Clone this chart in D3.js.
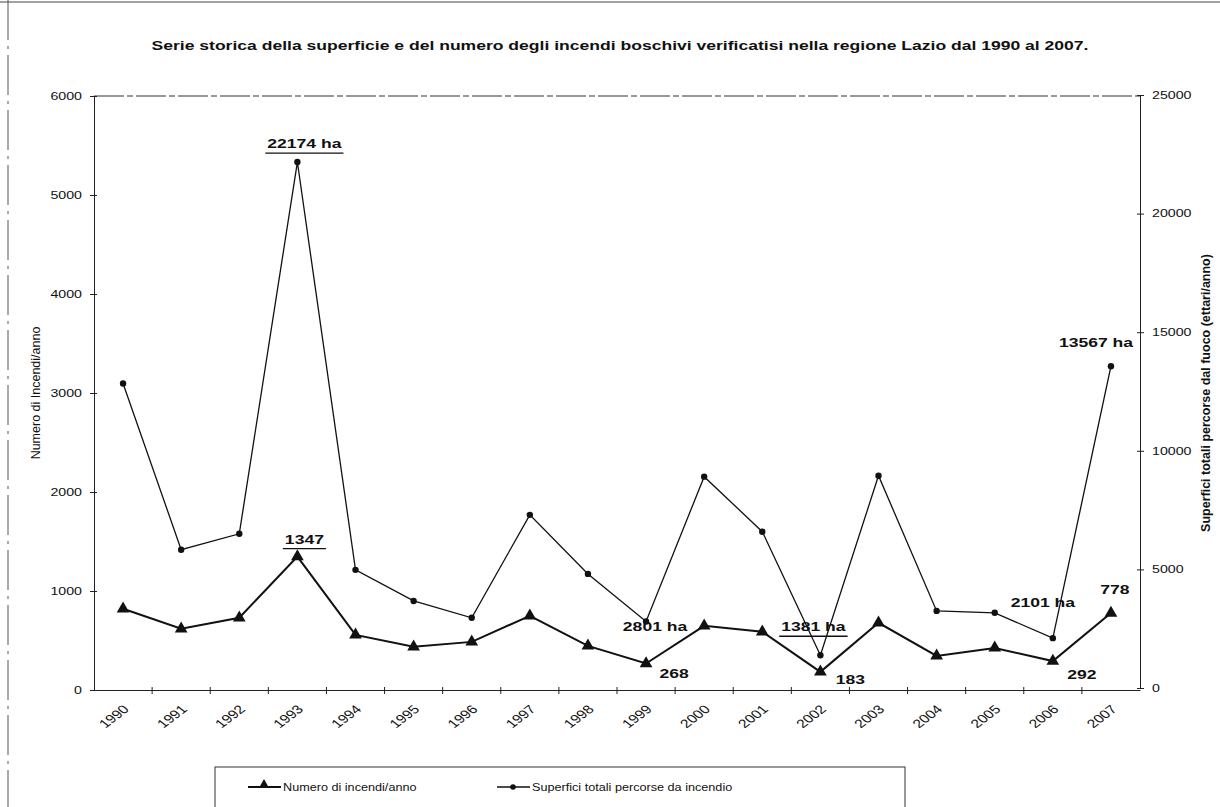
<!DOCTYPE html>
<html>
<head>
<meta charset="utf-8">
<script src="https://cdn.jsdelivr.net/npm/d3@7"></script>
<style>
  body { margin: 0; background: #fff; }
  text { font-family: "Liberation Sans", Arial, sans-serif; fill: #111; }
</style>
</head>
<body>
<div id="chart"></div>
<script>
const years = ["1990","1991","1992","1993","1994","1995","1996","1997","1998","1999","2000","2001","2002","2003","2004","2005","2006","2007"];
const incendi = [820, 618, 730, 1347, 557, 436, 486, 750, 446, 268, 648, 588, 183, 679, 344, 425, 292, 778];
const superficie = [12840, 5830, 6500, 22174, 4980, 3670, 2960, 7300, 4810, 2801, 8910, 6590, 1381, 8950, 3250, 3170, 2101, 13567];
const leftTicks = [0, 1000, 2000, 3000, 4000, 5000, 6000];
const rightTicks = [0, 5000, 10000, 15000, 20000, 25000];
// labels next to points: [series, index, text, dx, dy, underline]
const notes = [
  ["s", 3, "22174 ha", 7, -14, true],
  ["i", 3, "1347", 7, -13, true],
  ["s", 9, "2801 ha", 9, 9, false],
  ["i", 9, "268", 28, 15, false],
  ["s", 12, "1381 ha", -7, -24, true],
  ["i", 12, "183", 30, 12, false],
  ["s", 16, "2101 ha", -10, -31, false],
  ["i", 16, "292", 29, 18, false],
  ["i", 17, "778", 4, -19, false],
  ["s", 17, "13567 ha", -15, -19, false]
];

const width = 1220, height = 807;
const m = { left: 94, right: 1140, top: 96, bottom: 690 };
const sx = 1.35; // the scan is wider than tall

const svg = d3.select("#chart").append("svg")
  .attr("width", width)
  .attr("height", height);

// put a text at (x,y) stretched sideways
function wide(sel, x, y, s) {
  return sel.attr("x", 0).attr("y", 0).attr("transform", `translate(${x},${y}) scale(${s || sx},1)`);
}

// scan frame bits
svg.append("line").attr("x1", 0).attr("x2", width).attr("y1", 2).attr("y2", 2)
  .attr("stroke", "#444").attr("stroke-width", 1);
svg.append("line").attr("x1", 8).attr("x2", 8).attr("y1", 0).attr("y2", height)
  .attr("stroke", "#555").attr("stroke-width", 1).attr("stroke-dasharray", "40,6,3,6");

wide(svg.append("text"), 620, 50)
  .attr("text-anchor", "middle")
  .style("font-size", "13px")
  .style("font-weight", "bold")
  .text("Serie storica della superficie e del numero degli incendi boschivi verificatisi nella regione Lazio dal 1990 al 2007.");

const x = d3.scaleBand().domain(years).range([m.left, m.right]);
const yL = d3.scaleLinear().domain([0, 6000]).range([m.bottom, m.top]);
const yR = d3.scaleLinear().domain([0, 25000]).range([m.bottom - 2, m.top - 1]);
const cx = d => x(d) + x.bandwidth() / 2;

// top border of plot area
svg.append("line").attr("x1", m.left).attr("x2", m.right).attr("y1", m.top).attr("y2", m.top)
  .attr("stroke", "#333").attr("stroke-dasharray", "30,3,6,3");

const axL = svg.append("g").attr("transform", `translate(${m.left},0)`)
  .call(d3.axisLeft(yL).tickValues(leftTicks).tickFormat(d3.format("d")).tickSize(4).tickSizeOuter(0));
const axR = svg.append("g").attr("transform", `translate(${m.right},0)`)
  .call(d3.axisRight(yR).tickValues(rightTicks).tickFormat(d3.format("d")).tickSize(4).tickSizeOuter(0));
axR.selectAll(".tick line").attr("x1", -3);
axL.selectAll(".tick line").attr("x1", 3);
const axB = svg.append("g").attr("transform", `translate(0,${m.bottom})`)
  .call(d3.axisBottom(x).tickSize(0).tickSizeOuter(0));
[axL, axR, axB].forEach(a => {
  a.select(".domain").attr("stroke", "#222");
  a.selectAll(".tick line").attr("stroke", "#222");
  a.selectAll("text").style("font-size", "10.5px").style("font-family", "Liberation Sans, Arial, sans-serif").attr("fill", "#222");
});
axL.selectAll(".tick text").each(function () { wide(d3.select(this), -12, 0); });
axR.selectAll(".tick text").each(function () { wide(d3.select(this), 12, 0); });
axB.selectAll(".tick text")
  .attr("x", 0).attr("y", 0).attr("dy", "0.35em")
  .attr("text-anchor", "end")
  .attr("transform", "translate(3,17) scale(1.3,1) rotate(-45)")
  .style("font-size", "12px");
// tick marks at band boundaries
svg.append("g").selectAll("line").data(years.slice(1)).join("line")
  .attr("x1", d => x(d)).attr("x2", d => x(d))
  .attr("y1", m.bottom - 3).attr("y2", m.bottom + 4)
  .attr("stroke", "#222");

svg.append("text")
  .attr("transform", `translate(40,${(m.top + m.bottom) / 2}) rotate(-90)`)
  .attr("text-anchor", "middle")
  .style("font-size", "12.5px")
  .text("Numero di Incendi/anno");
svg.append("text")
  .attr("transform", `translate(1210,${(m.top + m.bottom) / 2}) rotate(-90)`)
  .attr("text-anchor", "middle")
  .style("font-size", "12.5px")
  .style("font-weight", "bold")
  .text("Superfici totali percorse dal fuoco (ettari/anno)");

// superficie line
svg.append("path").datum(superficie)
  .attr("fill", "none").attr("stroke", "#111").attr("stroke-width", 1.3)
  .attr("d", d3.line().x((d, i) => cx(years[i])).y(d => yR(d)));
svg.append("g").selectAll("circle").data(superficie).join("circle")
  .attr("cx", (d, i) => cx(years[i])).attr("cy", d => yR(d))
  .attr("r", 3.2).attr("fill", "#111");

// incendi line
svg.append("path").datum(incendi)
  .attr("fill", "none").attr("stroke", "#111").attr("stroke-width", 2)
  .attr("d", d3.line().x((d, i) => cx(years[i])).y(d => yL(d)));
const tri = d3.symbol().type(d3.symbolTriangle).size(70);
svg.append("g").selectAll("path").data(incendi).join("path")
  .attr("d", tri)
  .attr("transform", (d, i) => `translate(${cx(years[i])},${yL(d)})`)
  .attr("fill", "#111");

// point labels
notes.forEach(([s, i, t, dx, dy, ul]) => {
  const px = cx(years[i]) + dx;
  const py = (s === "s" ? yR(superficie[i]) : yL(incendi[i])) + dy;
  const lab = wide(svg.append("text"), px, py)
    .attr("text-anchor", "middle")
    .style("font-size", "13px")
    .style("font-weight", "bold")
    .attr("fill", "#111")
    .text(t);
  if (ul) {
    const w = lab.node().getComputedTextLength() * sx;
    svg.append("line")
      .attr("x1", px - w / 2 - 2).attr("x2", px + w / 2 + 2)
      .attr("y1", py + 5).attr("y2", py + 5)
      .attr("stroke", "#111").attr("stroke-width", 1.3);
  }
});

// legend
const lg = svg.append("g");
lg.append("rect").attr("x", 215).attr("y", 767).attr("width", 690).attr("height", 60)
  .attr("fill", "none").attr("stroke", "#333");
const items = [
  { label: "Numero di incendi/anno", x: 248, w: 2, mark: "tri" },
  { label: "Superfici totali percorse da incendio", x: 497, w: 1.3, mark: "dot" }
];
items.forEach(it => {
  lg.append("line").attr("x1", it.x).attr("x2", it.x + 33).attr("y1", 787).attr("y2", 787)
    .attr("stroke", "#111").attr("stroke-width", it.w);
  if (it.mark === "tri") {
    lg.append("path").attr("d", d3.symbol().type(d3.symbolTriangle).size(45))
      .attr("transform", `translate(${it.x + 16},785)`).attr("fill", "#111");
  } else {
    lg.append("circle").attr("cx", it.x + 16).attr("cy", 787).attr("r", 2.8).attr("fill", "#111");
  }
  wide(lg.append("text"), it.x + 35, 791, 1.15)
    .style("font-size", "11px").text(it.label);
});
</script>
</body>
</html>
